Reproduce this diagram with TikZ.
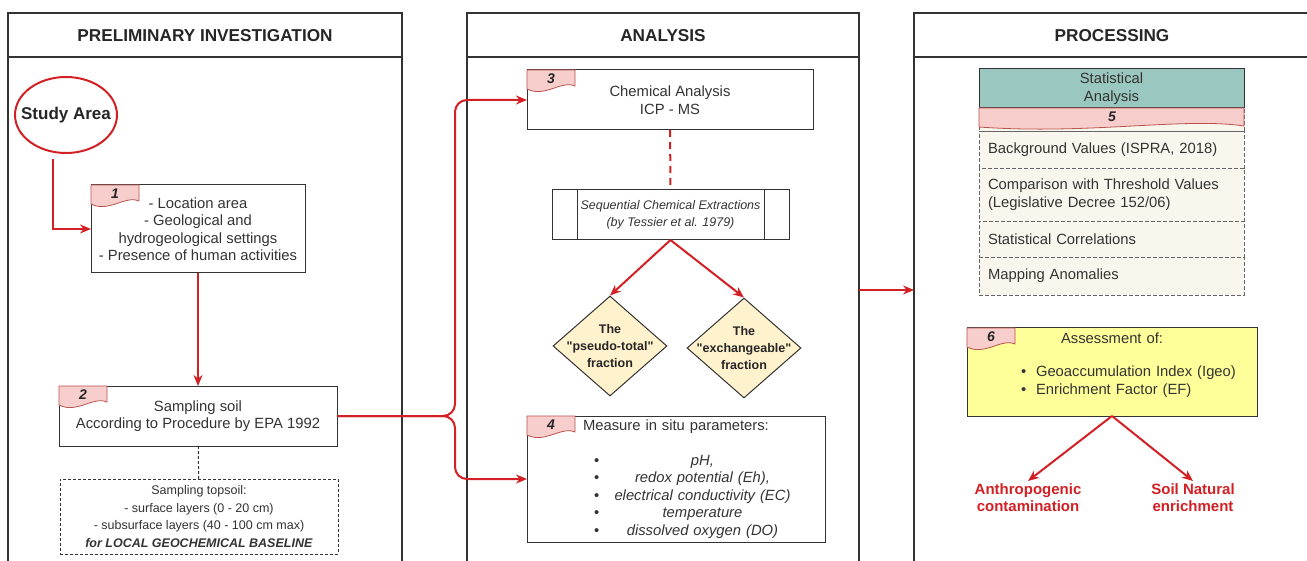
\documentclass[tikz,border=0pt]{standalone}
\usepackage{fontspec}
\setmainfont{Liberation Sans}
\usetikzlibrary{shapes.geometric,arrows.meta,positioning}

\definecolor{flowred}{RGB}{210,32,36}
\definecolor{tagfill}{HTML}{F8CECC}
\definecolor{tagline}{HTML}{B85450}
\definecolor{tealhead}{HTML}{9AC7BF}
\definecolor{beige}{HTML}{F9F7ED}
\definecolor{notefill}{HTML}{FFFF99}
\definecolor{fracfill}{HTML}{FFF2CC}
\definecolor{ink}{HTML}{333333}

% straight double quote, past the TeX ligature mapping
\newcommand{\straightq}{\XeTeXglyph\XeTeXcharglyph 34\relax}

% pink number flag on the top left corner of a box
\newcommand{\numtag}[2]{%
  \begin{scope}[shift={(#1.north west)}]
    \draw[tagbox] (0,0) -- (48,0) -- (48,16) .. controls (34,10) and (18,28) .. (0,19) -- cycle;
    \node[tagnum] (tag#2) at (24,9) {#2};
  \end{scope}}

\begin{document}
\begin{tikzpicture}[x=1pt,y=-1pt,>={Stealth[length=11pt,width=9pt]},
    font=\fontsize{14.8}{17.5}\selectfont,
    panel/.style={draw=black!80,line width=2.2pt},
    head/.style={font=\fontsize{17.2}{19}\selectfont\bfseries,text=black!85},
    box/.style={draw=ink,fill=white,line width=1pt,inner sep=0pt,outer sep=0pt,align=center,text=ink},
    flow/.style={->,draw=flowred,line width=2pt},
    tagbox/.style={draw=tagline,fill=tagfill,line width=0.8pt},
    tagnum/.style={font=\fontsize{14}{16}\selectfont\bfseries\itshape,text=black!85},
    statrow/.style={draw=black!60,dash pattern=on 4pt off 2pt,fill=beige,line width=0.8pt,
      minimum width=265pt,text width=247pt,inner xsep=9pt,inner ysep=0pt,outer sep=0pt,
      align=left,anchor=north,text=ink},
    frac/.style={diamond,draw=ink,fill=fracfill,line width=1pt,inner sep=-15pt,
      minimum width=114pt,minimum height=100pt,align=center,
      font=\fontsize{12.5}{17}\selectfont\bfseries,text=black!85},
    result/.style={font=\fontsize{15}{17}\selectfont\bfseries,text=flowred,align=center,
      inner sep=2pt,anchor=north}]

  \useasboundingbox (0,0) rectangle (1307,561);
  \clip (0,0) rectangle (1307,561);
  \fill[white] (0,0) rectangle (1307,561);

  % the three columns
  \foreach \pl/\pr in {8/402,467/859,914/1320}{
    \draw[panel] (\pl,13) rectangle (\pr,580);
    \draw[panel] (\pl,57) -- (\pr,57);
  }
  \node[head] (hdrPI) at (205,36) {PRELIMINARY INVESTIGATION};
  \node[head] (hdrAN) at (663,36) {ANALYSIS};
  \node[head] (hdrPR) at (1112,36) {PROCESSING};

  % preliminary investigation
  \node[ellipse,draw=flowred,fill=white,line width=2pt,inner sep=-10pt,minimum width=102pt,
        minimum height=76pt,font=\fontsize{17}{19}\selectfont\bfseries,text=black!85]
        (area) at (66,115) {Study Area};
  \node[box,minimum width=214pt,minimum height=88pt] (setting) at (198,229)
        {- Location area\\- Geological and\\hydrogeological settings\\- Presence of human activities};
  \node[box,minimum width=278pt,minimum height=60pt] (sampling) at (198,416)
        {Sampling soil\\According to Procedure by EPA 1992};
  \node[box,dash pattern=on 3pt off 2pt,minimum width=278pt,minimum height=75pt,
        font=\fontsize{12.5}{17.5}\selectfont] (topsoil) at (199,516.5)
        {Sampling topsoil:\\- surface layers (0 - 20 cm)\\- subsurface layers (40 - 100 cm max)\\
         \textbf{\textit{for LOCAL GEOCHEMICAL BASELINE}}};

  % analysis
  \node[box,minimum width=286pt,minimum height=60pt] (icpms) at (670,100)
        {Chemical Analysis\\ICP - MS};
  \node[box,minimum width=237pt,minimum height=50pt,font=\fontsize{12.5}{17}\selectfont\itshape]
        (tessier) at (670.5,215) {Sequential Chemical Extractions\\(by Tessier et al. 1979)};
  \draw[ink,line width=1pt] ([xshift=25pt]tessier.north west) -- ([xshift=25pt]tessier.south west)
                            ([xshift=-25pt]tessier.north east) -- ([xshift=-25pt]tessier.south east);
  \node[frac] (pseudo) at (610,346) {The\\\straightq pseudo-total\straightq\\fraction};
  \node[frac] (exch) at (744,348) {The\\\straightq exchangeable\straightq\\fraction};
  \node[box,minimum width=298pt,minimum height=126pt,text width=242pt,align=left] (insitu) at (676,479)
        {\hspace*{28pt}Measure in situ parameters:\\[17.5pt]
         \hspace*{39pt}\makebox[16pt][l]{\textbullet}\makebox[185pt]{\itshape pH,}\\
         \hspace*{39pt}\makebox[16pt][l]{\textbullet}\makebox[185pt]{\itshape redox potential (Eh),}\\
         \hspace*{39pt}\makebox[16pt][l]{\textbullet}\makebox[185pt]{\itshape electrical conductivity (EC)}\\
         \hspace*{39pt}\makebox[16pt][l]{\textbullet}\makebox[185pt]{\itshape temperature}\\
         \hspace*{39pt}\makebox[16pt][l]{\textbullet}\makebox[185pt]{\itshape dissolved oxygen (DO)}};

  % processing
  \node[box,fill=tealhead,anchor=north west,minimum width=265pt,minimum height=39pt]
        (stathead) at (979,69) {Statistical\\Analysis};
  \node[statrow,minimum height=37pt] (bgval) at (1111.5,131) {Background Values (ISPRA, 2018)};
  \node[statrow,minimum height=53pt,below=0pt of bgval] (thresh)
        {Comparison with Threshold Values\\(Legislative Decree 152/06)};
  \node[statrow,minimum height=36pt,below=0pt of thresh] (correl) {Statistical Correlations};
  \node[statrow,minimum height=38pt,below=0pt of correl] (mapping) {Mapping Anomalies};
  \draw[black!60,dash pattern=on 4pt off 2pt,line width=0.8pt,fill=beige]
        (stathead.south west) rectangle (bgval.north east);
  \draw[tagbox] (stathead.south west) -- (stathead.south east) -- ++(0,18)
        .. controls +(-60,-9) and +(110,8) .. ([yshift=-19pt]stathead.south west) -- cycle;
  \node[tagnum] (tag5) at (1112,117) {5};

  \node[box,fill=notefill,minimum width=290pt,minimum height=88pt,text width=270pt,align=left]
        (assess) at (1112,372)
        {\makebox[270pt]{Assessment of:}\\[16pt]
         \hspace*{44pt}\makebox[15pt][l]{\textbullet}Geoaccumulation Index (Igeo)\\
         \hspace*{44pt}\makebox[15pt][l]{\textbullet}Enrichment Factor (EF)\\\mbox{}};
  \node[result] (anthro) at (1028,481) {Anthropogenic\\contamination};
  \node[result] (natural) at (1193,481) {Soil Natural\\enrichment};

  % connectors
  \coordinate (split) at (455,416);
  \coordinate (anaOut) at (859,290);
  \coordinate (proIn) at (914,290);
  \draw[flow] ([xshift=-13pt,yshift=-5pt]area.south) |- (setting.west);
  \draw[flow] (setting) -- (sampling);
  \draw[ink,dash pattern=on 3pt off 2pt,line width=1pt] (sampling) -- (topsoil);
  \draw[flow,rounded corners=12pt] (sampling.east) -- (split) |- (icpms.west);
  \draw[flow,rounded corners=12pt] (sampling.east) -- (split) |- (insitu.west);
  \draw[flowred,line width=2pt,dash pattern=on 7pt off 5pt] (icpms) -- (tessier);
  \draw[flow] (tessier.south) -- (pseudo.north);
  \draw[flow] (tessier.south) -- (exch.north);
  \draw[flow,line width=1.6pt] (anaOut) -- (proIn);
  \draw[flow] (assess.south) -- (anthro.north);
  \draw[flow] (assess.south) -- (natural.north);

  % number flags
  \numtag{setting}{1}
  \numtag{sampling}{2}
  \numtag{icpms}{3}
  \numtag{insitu}{4}
  \numtag{assess}{6}
\end{tikzpicture}
\end{document}
